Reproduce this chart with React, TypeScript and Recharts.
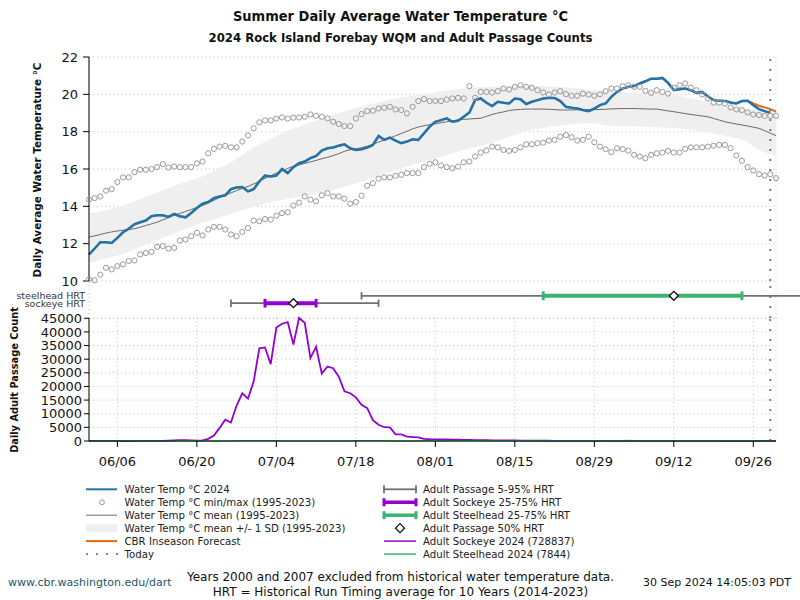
import React from 'react';
import { ComposedChart, Line, Area, Scatter, XAxis, YAxis, CartesianGrid, ReferenceLine } from 'recharts';

const FONT = "'DejaVu Sans', Verdana, sans-serif";
const COND = "'DejaVu Sans Condensed', 'Liberation Sans Narrow', 'DejaVu Sans', sans-serif";

// day number counted from 06/01/2024
const TICK_DAYS = [5, 19, 33, 47, 61, 75, 89, 103, 117];
const TICK_LABELS = ['06/06', '06/20', '07/04', '07/18', '08/01', '08/15', '08/29', '09/12', '09/26'];
const TODAY = 120;
const TEMP_TICKS = [10, 12, 14, 16, 18, 20, 22];
const COUNT_TICKS = [0, 5000, 10000, 15000, 20000, 25000, 30000, 35000, 40000, 45000];

// water temp 2024, d0..d120
const temp2024 = [
  11.42, 11.74, 12.08, 12.08, 12.04, 12.31, 12.61, 12.8, 13.04, 13.15,
  13.24, 13.47, 13.52, 13.52, 13.43, 13.59, 13.47, 13.41, 13.64, 13.91,
  14.14, 14.23, 14.44, 14.53, 14.59, 14.92, 15.01, 15.03, 14.8, 14.92,
  15.33, 15.65, 15.6, 15.65, 16.0, 15.78, 16.1, 16.31,
  16.4, 16.58, 16.7, 16.99, 17.11, 17.15, 17.25, 17.32, 17.11, 17.02,
  17.06, 17.15, 17.29, 17.77, 17.56, 17.68, 17.52, 17.38, 17.47, 17.59,
  17.56, 17.91, 18.27, 18.53, 18.62, 18.71, 18.53, 18.58, 18.8, 19.03,
  19.69, 19.78, 19.55, 19.37, 19.6, 19.55, 19.51, 19.78, 19.74, 19.48,
  19.6, 19.69, 19.78, 19.81, 19.81, 19.64, 19.33, 19.28, 19.24,
  19.16, 19.1, 19.24, 19.42, 19.51, 19.87, 20.13, 20.31, 20.4, 20.45,
  20.58, 20.7, 20.84, 20.84, 20.88, 20.61, 20.22, 20.27, 20.31, 20.22,
  20.08, 20.13, 19.9, 19.69, 19.65, 19.64, 19.56, 19.51, 19.64, 19.65,
  19.42, 19.21, 19.1, 19.01,
];
// CBR forecast follows the observed series, then runs on from d117
const FORECAST_FROM = 117;
const forecastTail = [19.51, 19.39, 19.3, 19.21, 19.07];

const histMax = [
  14.36, 14.44, 14.53, 14.84, 14.92, 15.3, 15.55, 15.55, 15.83, 15.96,
  15.96, 16.0, 16.1, 16.26, 16.08, 16.13, 16.1, 16.1, 16.1, 16.3,
  16.4, 16.84, 17.08, 17.2, 17.24, 17.16, 17.16, 17.47, 17.8, 18.18,
  18.5, 18.6, 18.6, 18.7, 18.76, 18.7, 18.75, 18.76,
  18.8, 18.92, 18.85, 18.8, 18.71, 18.53, 18.41, 18.3, 18.3, 18.71,
  18.94, 19.1, 19.12, 19.24, 19.28, 19.33, 19.19, 19.16, 18.98, 19.33,
  19.64, 19.74, 19.64, 19.64, 19.64, 19.72, 19.78, 19.81, 19.78, 20.44,
  19.81, 20.13, 20.13, 20.1, 20.17, 20.31, 20.26, 20.4, 20.49, 20.4,
  20.35, 20.22, 20.1, 19.99, 20.1, 20.17, 20.01, 19.92, 19.92,
  20.04, 19.99, 19.92, 20.0, 20.17, 20.31, 20.31, 20.44, 20.49, 20.4,
  20.4, 20.19, 20.08, 20.22, 20.13, 20.04, 20.36, 20.49, 20.58, 20.36,
  20.22, 19.99, 19.78, 19.56, 19.56, 19.51, 19.3, 19.19, 19.16, 19.03,
  18.92, 18.89, 18.84, 18.85, 18.85,
];

const histMin = [
  10.09, 10.04, 10.34, 10.71, 10.62, 10.8, 10.89, 11.07, 11.1, 11.42,
  11.5, 11.56, 11.83, 11.87, 11.74, 11.78, 12.17, 12.22, 12.4, 12.58,
  12.44, 12.76, 12.9, 12.9, 12.76, 12.49, 12.4, 12.63, 12.84, 13.24,
  13.2, 13.32, 13.29, 13.5, 13.64, 13.68, 14.04, 14.2,
  14.53, 14.36, 14.27, 14.59, 14.71, 14.53, 14.53, 14.41, 14.14, 14.23,
  14.57, 15.1, 15.24, 15.48, 15.55, 15.55, 15.64, 15.69, 15.78, 15.78,
  15.78, 16.1, 16.28, 16.36, 16.19, 16.1, 16.04, 16.13, 16.36, 16.4,
  16.67, 16.88, 16.99, 17.2, 17.16, 17.02, 16.97, 17.02, 17.16, 17.32,
  17.32, 17.38, 17.41, 17.52, 17.56, 17.73, 17.82, 17.7, 17.52,
  17.56, 17.73, 17.43, 17.2, 17.06, 16.9, 17.11, 17.06, 16.99, 16.76,
  16.67, 16.58, 16.76, 16.84, 16.88, 16.97, 16.88, 16.88, 17.08, 17.16,
  17.16, 17.16, 17.2, 17.25, 17.29, 17.29, 17.11, 16.72, 16.44, 16.1,
  15.92, 15.72, 15.65, 15.72, 15.51,
];

const histMean = [
  12.35, 12.42, 12.49, 12.57, 12.63, 12.68, 12.72, 12.76, 12.8, 12.88,
  12.97, 13.06, 13.15, 13.27, 13.4, 13.52, 13.62, 13.72, 13.83, 13.94,
  14.04, 14.18, 14.32, 14.47, 14.6, 14.72, 14.84, 14.96, 15.07, 15.2,
  15.35, 15.5, 15.64, 15.78, 15.9, 16.03, 16.15, 16.22, 16.3, 16.38,
  16.46, 16.55, 16.63, 16.72, 16.82, 16.95, 17.03, 17.08, 17.14, 17.22,
  17.32, 17.44, 17.55, 17.66, 17.78, 17.9, 18.02, 18.15, 18.25, 18.32,
  18.37, 18.42, 18.48, 18.53, 18.58, 18.63, 18.66, 18.68, 18.7, 18.72,
  18.82, 18.92, 19.0, 19.06, 19.13, 19.17, 19.19, 19.21, 19.21, 19.21,
  19.21, 19.2, 19.18, 19.16, 19.16, 19.16, 19.17, 19.18, 19.19, 19.18,
  19.19, 19.2, 19.22, 19.23, 19.24, 19.24, 19.24, 19.23, 19.22, 19.21,
  19.21, 19.16, 19.11, 19.07, 19.02, 18.97, 18.92, 18.88, 18.84, 18.8,
  18.71, 18.62, 18.53, 18.47, 18.41, 18.36, 18.3, 18.24, 18.18, 18.05,
  17.92, 17.79,
];

// mean +/- 1 SD
const sdHigh = [
  13.64, 13.68, 13.74, 13.8, 13.88, 13.95, 14.05, 14.15, 14.27, 14.38,
  14.5, 14.62, 14.74, 14.86, 14.98, 15.1, 15.2, 15.3, 15.4, 15.5,
  15.6, 15.75, 15.9, 16.05, 16.2, 16.35, 16.55, 16.75, 16.95, 17.15,
  17.3, 17.45, 17.6, 17.75, 17.9, 18.05, 18.15, 18.25, 18.38, 18.5,
  18.6, 18.7, 18.8, 18.9, 19.0, 19.1, 19.18, 19.26, 19.34, 19.42,
  19.5, 19.57, 19.64, 19.71, 19.78, 19.85, 19.89, 19.93, 19.97, 20.01,
  20.05, 20.1, 20.15, 20.2, 20.24, 20.28, 20.31, 20.34, 20.36, 20.38,
  20.4, 20.41, 20.42, 20.43, 20.44, 20.45, 20.45, 20.45, 20.45, 20.45,
  20.45, 20.43, 20.41, 20.39, 20.37, 20.35, 20.32, 20.29, 20.26, 20.23,
  20.2, 20.18, 20.16, 20.14, 20.12, 20.1, 20.1, 20.1, 20.1, 20.1,
  20.1, 20.05, 20.0, 19.95, 19.9, 19.85, 19.78, 19.72, 19.65, 19.58,
  19.51, 19.45, 19.39, 19.33, 19.27, 19.22, 19.2, 19.17, 19.14, 19.11,
  19.09, 19.07,
];
const sdLow = [
  10.97, 11.05, 11.12, 11.2, 11.28, 11.36, 11.45, 11.57, 11.7, 11.82,
  11.94, 12.06, 12.18, 12.3, 12.42, 12.54, 12.66, 12.78, 12.9, 13.02,
  13.12, 13.21, 13.3, 13.4, 13.5, 13.6, 13.7, 13.79, 13.88, 13.97,
  14.06, 14.15, 14.22, 14.28, 14.34, 14.4, 14.46, 14.53, 14.58, 14.63,
  14.68, 14.73, 14.78, 14.87, 14.96, 15.05, 15.14, 15.23, 15.32, 15.42,
  15.53, 15.63, 15.74, 15.85, 15.95, 16.04, 16.13, 16.22, 16.31, 16.4,
  16.48, 16.57, 16.66, 16.75, 16.84, 16.93, 17.02, 17.09, 17.17, 17.24,
  17.32, 17.4, 17.5, 17.6, 17.71, 17.82, 17.93, 18.03, 18.1, 18.15,
  18.2, 18.25, 18.3, 18.34, 18.37, 18.4, 18.42, 18.44, 18.45, 18.45,
  18.4, 18.35, 18.3, 18.3, 18.29, 18.29, 18.28, 18.28, 18.27, 18.25,
  18.24, 18.22, 18.21, 18.19, 18.18, 18.14, 18.09, 18.05, 18.0, 17.95,
  17.9, 17.84, 17.78, 17.72, 17.66, 17.58, 17.45, 17.2, 17.0, 16.9,
  16.8, 16.7,
];

// daily adult counts
const sockeye = [
  0, 40, 60, 30, 20, 10, 0, 0, 10, 20,
  30, 20, 40, 60, 150, 250, 300, 300, 250, 150,
  200, 800, 2000, 4800, 7800, 6800, 13000, 17500, 15500, 21800,
  34000, 34300, 28200, 41600, 43000, 43600, 35400, 45100, 43350, 30400,
  34600, 24700, 27300, 26700, 23600, 18250, 17500, 16000, 13250, 12050,
  7670, 5950, 5050, 5000, 2440, 2440, 1600, 1450, 1340, 800,
  650, 620, 600, 580, 520, 450, 400, 360, 330, 300,
  280, 260, 240, 230, 210, 190, 170, 150, 130, 120,
  100, 90, 80, 70, 60, 50, 50, 40, 40, 30,
  30, 30, 20, 20, 20, 20, 10, 10, 10, 10,
  10, 10, 10, 10, 10, 10, 10, 10, 10, 10,
  10, 10, 0, 0, 0, 0, 0, 0, 0, 0,
  0, 0,
];
const steelhead = [
  10, 20, 30, 30, 40, 40, 60, 70, 60, 40,
  30, 20, 20, 30, 30, 40, 60, 80, 60, 40,
  30, 20, 20, 30, 30, 40, 60, 80, 90, 100,
  110, 90, 70, 50, 40, 30, 30, 30, 30, 30,
  30, 30, 30, 30, 40, 40, 40, 50, 50, 60,
  60, 50, 50, 40, 40, 40, 30, 30, 40, 50,
  50, 40, 40, 50, 50, 60, 70, 70, 70, 70,
  70, 60, 60, 70, 70, 80, 80, 70, 70, 70,
  70, 80, 80, 90, 80, 70, 80, 90, 90, 100,
  110, 110, 120, 130, 130, 140, 130, 120, 110, 110,
  100, 100, 90, 90, 80, 80, 70, 70, 80, 80,
  90, 80, 80, 70, 60, 60, 50, 50, 40, 30,
  30, 20,
];

// historical run timing (day numbers)
const HRT_LABELS = ['steelhead HRT', 'sockeye HRT'];
const HRT_P5 = [48, 25];
const HRT_P25 = [80, 31];
const HRT_P50 = [103, 36];
const HRT_P75 = [115, 40];
const HRT_P95 = [126, 51];
const HRT_COLORS = ['#3cb371', '#9400d3'];
const HRT_ROW = [2.4, 1.6];

const rows = histMean.map((mean, d) => ({
  d,
  t2024: d < temp2024.length ? temp2024[d] : null,
  fc: d < FORECAST_FROM ? temp2024[d] : forecastTail[d - FORECAST_FROM],
  max: histMax[d],
  min: histMin[d],
  mean,
  band: [sdLow[d], sdHigh[d]],
  sockeye: sockeye[d],
  steelhead: steelhead[d],
}));

const medians = HRT_P50.map((d, i) => ({ d, row: HRT_ROW[i] }));

const GRID = '#c4c4c4';
const tickStyle = { fill: '#111', fontSize: 13, fontFamily: FONT };
const todayLine = <ReferenceLine x={TODAY} stroke="#777" strokeWidth={2} strokeDasharray="2 8" ifOverflow="visible" />;

const Diamond = (props: any) => {
  const { cx, cy } = props;
  return <path d={`M${cx},${cy - 4.5}L${cx + 4.5},${cy}L${cx},${cy + 4.5}L${cx - 4.5},${cy}Z`} fill="#fff" stroke="#111" strokeWidth={1.3} />;
};

const HrtTick = (props: any) => {
  const { x, y, payload } = props;
  return (
    <text x={x} y={y} dy={3.4} textAnchor="end" fontSize={9.5} fill="#333" fontFamily={FONT}>
      {HRT_LABELS[HRT_ROW.indexOf(payload.value)]}
    </text>
  );
};

function TempChart() {
  return (
    <ComposedChart width={800} height={292} data={rows} margin={{ top: 57, right: 24, bottom: 10, left: 0 }}>
      <CartesianGrid stroke={GRID} strokeDasharray="1 3" />
      <XAxis dataKey="d" type="number" domain={[0, 121]} ticks={TICK_DAYS} tick={false} tickLine={false} axisLine={false} height={1} />
      <YAxis domain={[10, 22]} ticks={TEMP_TICKS} interval={0} width={89} tickSize={6} tickMargin={5} stroke="#000" tick={tickStyle} />
      <Area dataKey="band" stroke="none" fill="#efefef" fillOpacity={1} isAnimationActive={false} />
      <Line dataKey="mean" stroke="#6a6a6a" strokeWidth={1} dot={false} isAnimationActive={false} />
      <Line dataKey="max" stroke="none" dot={{ r: 2.6, stroke: '#999', strokeWidth: 1, fill: 'none' }} isAnimationActive={false} />
      <Line dataKey="min" stroke="none" dot={{ r: 2.6, stroke: '#999', strokeWidth: 1, fill: 'none' }} isAnimationActive={false} />
      <Line dataKey="fc" stroke="#e3690e" strokeWidth={2} dot={false} isAnimationActive={false} />
      <Line dataKey="t2024" stroke="#1f74ad" strokeWidth={2.5} dot={false} isAnimationActive={false} />
      {todayLine}
    </ComposedChart>
  );
}

function HrtStrip() {
  return (
    <ComposedChart width={800} height={60} data={rows} margin={{ top: 11, right: 24, bottom: 11, left: 0 }}>
      <CartesianGrid stroke={GRID} strokeDasharray="1 3" horizontal={false} />
      <XAxis dataKey="d" type="number" domain={[0, 121]} ticks={TICK_DAYS} tick={false} tickLine={false} axisLine={false} height={1} />
      <YAxis
        type="number"
        domain={[0, 4]}
        ticks={HRT_ROW}
        interval={0}
        width={89}
        axisLine={false}
        tickLine={false}
        tickSize={0}
        tickMargin={4}
        tick={HrtTick}
      />
      {todayLine}
      {HRT_ROW.map((y, i) => (
        <React.Fragment key={i}>
          <ReferenceLine segment={[{ x: HRT_P5[i], y }, { x: HRT_P95[i], y }]} stroke="#707070" strokeWidth={1.8} ifOverflow="visible" />
          <ReferenceLine segment={[{ x: HRT_P5[i], y: y - 0.4 }, { x: HRT_P5[i], y: y + 0.4 }]} stroke="#707070" strokeWidth={1.8} ifOverflow="visible" />
          <ReferenceLine segment={[{ x: HRT_P95[i], y: y - 0.4 }, { x: HRT_P95[i], y: y + 0.4 }]} stroke="#707070" strokeWidth={1.8} ifOverflow="visible" />
          <ReferenceLine segment={[{ x: HRT_P25[i], y }, { x: HRT_P75[i], y }]} stroke={HRT_COLORS[i]} strokeWidth={4} ifOverflow="visible" />
          <ReferenceLine segment={[{ x: HRT_P25[i], y: y - 0.47 }, { x: HRT_P25[i], y: y + 0.47 }]} stroke={HRT_COLORS[i]} strokeWidth={3} ifOverflow="visible" />
          <ReferenceLine segment={[{ x: HRT_P75[i], y: y - 0.47 }, { x: HRT_P75[i], y: y + 0.47 }]} stroke={HRT_COLORS[i]} strokeWidth={3} ifOverflow="visible" />
        </React.Fragment>
      ))}
      <Scatter data={medians} dataKey="row" shape={Diamond} isAnimationActive={false} />
    </ComposedChart>
  );
}

function PassageChart() {
  return (
    <ComposedChart width={800} height={180} data={rows} margin={{ top: 18, right: 24, bottom: 9, left: 0 }}>
      <CartesianGrid stroke={GRID} strokeDasharray="1 3" />
      <XAxis
        dataKey="d"
        type="number"
        domain={[0, 121]}
        ticks={TICK_DAYS}
        interval={0}
        height={30}
        tickSize={6}
        tickMargin={10}
        stroke="#000"
        tick={tickStyle}
        tickFormatter={(v: number) => TICK_LABELS[TICK_DAYS.indexOf(v)]}
      />
      <YAxis domain={[0, 45000]} ticks={COUNT_TICKS} interval={0} width={89} tickSize={5} tickMargin={2} stroke="#000" tick={tickStyle} />
      {todayLine}
      <Line dataKey="sockeye" stroke="#9400d3" strokeWidth={1.8} dot={false} isAnimationActive={false} />
      <Line dataKey="steelhead" stroke="#3cb371" strokeWidth={1.5} dot={false} isAnimationActive={false} />
    </ComposedChart>
  );
}

const LEFT_LEGEND = [
  'Water Temp °C 2024',
  'Water Temp °C min/max (1995-2023)',
  'Water Temp °C mean (1995-2023)',
  'Water Temp °C mean +/- 1 SD (1995-2023)',
  'CBR Inseason Forecast',
  'Today',
];
const RIGHT_LEGEND = [
  'Adult Passage 5-95% HRT',
  'Adult Sockeye 25-75% HRT',
  'Adult Steelhead 25-75% HRT',
  'Adult Passage 50% HRT',
  'Adult Sockeye 2024 (728837)',
  'Adult Steelhead 2024 (7844)',
];

function leftIcon(i: number, y: number) {
  const x1 = 86, x2 = 117;
  switch (i) {
    case 0: return <line x1={x1} x2={x2} y1={y} y2={y} stroke="#1f74ad" strokeWidth={2} />;
    case 1: return <circle cx={102} cy={y} r={2.4} fill="none" stroke="#999" strokeWidth={1} />;
    case 2: return <line x1={x1} x2={x2} y1={y} y2={y} stroke="#6a6a6a" strokeWidth={1} />;
    case 3: return <rect x={x1} y={y - 4} width={x2 - x1} height={8} fill="#efefef" />;
    case 4: return <line x1={x1} x2={x2} y1={y} y2={y} stroke="#e3690e" strokeWidth={2} />;
    default: return <line x1={x1} x2={x2 + 2} y1={y} y2={y} stroke="#888" strokeWidth={2} strokeDasharray="2 8" />;
  }
}

function rightIcon(i: number, y: number) {
  const x1 = 384, x2 = 416;
  const bar = (c: string, w: number, cw: number) => (
    <g>
      <line x1={x1} x2={x2} y1={y} y2={y} stroke={c} strokeWidth={w} />
      <line x1={x1} x2={x1} y1={y - 4} y2={y + 4} stroke={c} strokeWidth={cw} />
      <line x1={x2} x2={x2} y1={y - 4} y2={y + 4} stroke={c} strokeWidth={cw} />
    </g>
  );
  switch (i) {
    case 0: return bar('#707070', 1.8, 1.8);
    case 1: return bar('#9400d3', 3.5, 3);
    case 2: return bar('#3cb371', 3.5, 3);
    case 3: return <Diamond cx={400} cy={y} />;
    case 4: return <line x1={x1} x2={x2} y1={y} y2={y} stroke="#9400d3" strokeWidth={1.5} />;
    default: return <line x1={x1} x2={x2} y1={y} y2={y} stroke="#3cb371" strokeWidth={1.5} />;
  }
}

function Overlay() {
  const rowY = (i: number) => 489.3 + i * 12.95;
  return (
    <svg width={800} height={600} style={{ position: 'absolute', left: 0, top: 0, pointerEvents: 'none' }} fontFamily={FONT}>
      <text x={400.5} y={21} textAnchor="middle" fontFamily={COND} fontWeight="bold" fontSize={14.5} fill="#111">
        Summer Daily Average Water Temperature °C
      </text>
      <text x={400.5} y={42} textAnchor="middle" fontFamily={COND} fontWeight="bold" fontSize={13} fill="#111">
        2024 Rock Island Forebay WQM and Adult Passage Counts
      </text>
      <text transform="translate(41,170) rotate(-90)" textAnchor="middle" fontWeight="bold" fontSize={10.4} fill="#111">
        Daily Average Water Temperature °C
      </text>
      <text transform="translate(18,380) rotate(-90)" textAnchor="middle" fontWeight="bold" fontSize={9.8} fill="#111">
        Daily Adult Passage Count
      </text>
      {LEFT_LEGEND.map((t, i) => (
        <g key={'l' + i}>
          {leftIcon(i, rowY(i))}
          <text x={124.5} y={rowY(i) + 3.7} fontSize={10.2} fill="#222">{t}</text>
        </g>
      ))}
      {RIGHT_LEGEND.map((t, i) => (
        <g key={'r' + i}>
          {rightIcon(i, rowY(i))}
          <text x={423} y={rowY(i) + 3.7} fontSize={10.2} fill="#222">{t}</text>
        </g>
      ))}
      <text x={8} y={586} fontSize={11} fill="#23566a">www.cbr.washington.edu/dart</text>
      <text x={400.5} y={580.5} textAnchor="middle" fontSize={12} fill="#111">
        Years 2000 and 2007 excluded from historical water temperature data.
      </text>
      <text x={400.5} y={595.5} textAnchor="middle" fontSize={12} fill="#111">
        HRT = Historical Run Timing average for 10 Years (2014-2023)
      </text>
      <text x={791} y={586} textAnchor="end" fontSize={11} fill="#111">30 Sep 2024 14:05:03 PDT</text>
    </svg>
  );
}

export default function App() {
  return (
    <div style={{ position: 'absolute', left: 0, top: 0, width: 800, height: 600, background: '#fff', fontFamily: FONT }}>
      <div style={{ position: 'absolute', left: 0, top: 0 }}><TempChart /></div>
      <div style={{ position: 'absolute', left: 0, top: 270 }}><HrtStrip /></div>
      <div style={{ position: 'absolute', left: 0, top: 300 }}><PassageChart /></div>
      <Overlay />
    </div>
  );
}
